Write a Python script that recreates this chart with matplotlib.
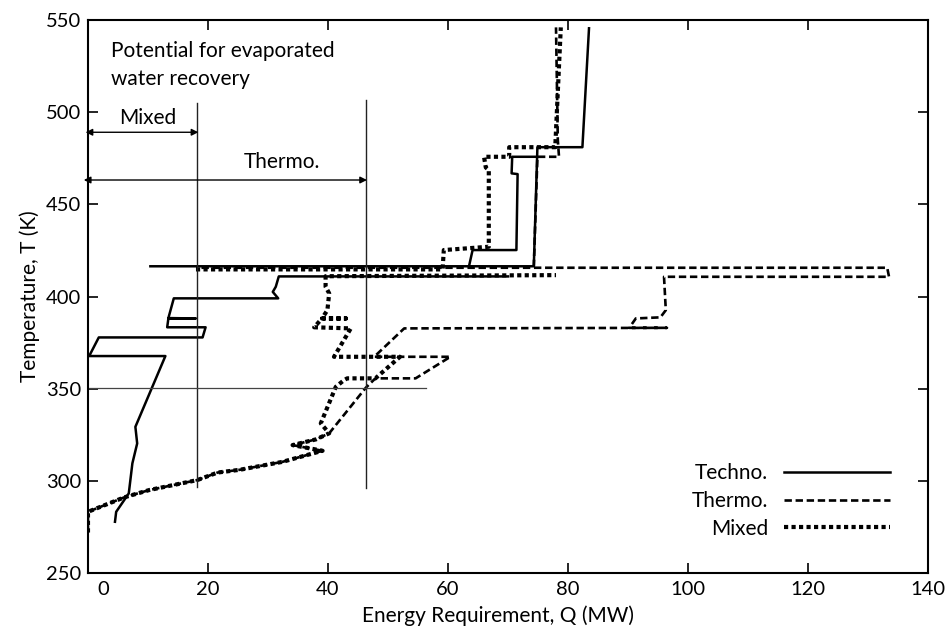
import matplotlib
matplotlib.use("Agg")
from matplotlib import pyplot as plt
import matplotlib.transforms as mtransforms

plt.rcParams['font.family'] = ['Lato', 'DejaVu Sans']

# curve data (Q in MW, T in K)
base_q = [0.0, 0.0, 6.0, 10.2, 18.2, 21.6, 25.3, 32.4, 38.5, 39.1, 34.1, 38.0, 40.2]
base_t = [272.0, 283.2, 291.0, 295.0, 300.4, 304.5, 306.0, 310.3, 315.8, 316.3, 319.4, 322.5, 325.8]

techno_q1 = [4.5, 4.7, 6.8, 7.4, 8.2, 7.9, 12.9, 0.2, 1.8, 19.1, 19.6, 13.2, 13.4, 18.0, 13.4,
             14.3, 31.7, 30.8, 31.3, 31.8, 70.0]
techno_t1 = [277.8, 283.2, 293.2, 309.5, 320.3, 329.3, 367.7, 367.7, 377.8, 377.8, 383.3, 383.3,
             388.1, 388.1, 388.3, 399.0, 399.0, 402.5, 405.3, 410.9, 410.9]
techno_q2 = [10.4, 74.3, 74.9, 82.4, 83.5]
techno_t2 = [416.4, 416.4, 481.0, 481.0, 545.5]
techno_q3 = [63.5, 64.1, 71.4, 71.6, 70.6, 70.7, 74.8]
techno_t3 = [416.4, 425.2, 425.2, 466.4, 466.8, 475.8, 475.8]

thermo_q1 = base_q + [46.3, 47.9, 54.6, 60.4, 47.7, 52.7, 96.5, 90.2, 91.3, 95.4, 96.3, 96.0,
                      133.5, 133.2, 18.0]
thermo_t1 = base_t + [350.5, 355.6, 355.6, 367.3, 367.3, 382.7, 383.0, 383.0, 388.1, 388.7,
                      392.6, 410.7, 410.7, 415.6, 415.6]
thermo_q2 = [74.3, 74.9, 78.5, 78.3, 78.0]
thermo_t2 = [416.0, 475.8, 475.8, 485.0, 546.0]

mixed_q1 = base_q + [38.8, 41.3, 42.7, 43.2, 47.9, 52.0, 41.0, 43.8, 37.7, 39.0, 43.0, 39.0,
                     39.9, 40.2, 39.6, 39.6, 78.0]
mixed_t1 = base_t + [331.2, 351.0, 354.7, 355.6, 355.6, 367.3, 367.3, 382.7, 383.3, 388.1,
                     388.1, 388.1, 392.6, 401.7, 405.3, 411.0, 411.6]
mixed_q2 = [18.0, 59.1, 59.3, 66.8, 66.8, 66.3, 66.0, 70.2, 70.2, 77.9, 77.9, 78.8]
mixed_t2 = [414.7, 414.7, 425.2, 427.0, 468.6, 470.0, 475.8, 475.8, 481.0, 481.0, 483.0, 546.0]

# recovery potential markers
mixed_limit = 18.2
thermo_limit = 46.3
pinch_t = 350.5

fig = plt.figure(figsize=(9.46, 6.27), dpi=100)
ax = fig.add_axes([0.093, 0.0861, 0.888, 0.882])

thermo_style = dict(color='black', lw=1.9, linestyle=(0, (2.8, 1.4)))
mixed_style = dict(color='black', lw=3.0, linestyle=(0, (1.0, 0.8)))

l_techno, = ax.plot(techno_q1, techno_t1, color='black', lw=1.8, label='Techno.')
ax.plot(techno_q2, techno_t2, color='black', lw=1.8)
ax.plot(techno_q3, techno_t3, color='black', lw=1.8)
l_thermo, = ax.plot(thermo_q1, thermo_t1, label='Thermo.', **thermo_style)
ax.plot(thermo_q2, thermo_t2, **thermo_style)
l_mixed, = ax.plot(mixed_q1, mixed_t1, label='Mixed', **mixed_style)
ax.plot(mixed_q2, mixed_t2, **mixed_style)

# guide lines
ax.plot([mixed_limit, mixed_limit], [296.8, 505.0], color='#222222', lw=1.0)
ax.plot([thermo_limit, thermo_limit], [296.0, 506.6], color='#222222', lw=1.0)
ax.plot([0, 56.3], [pinch_t, pinch_t], color='#444444', lw=0.9)

arrow = dict(arrowstyle='<|-|>', color='black', lw=1.0, mutation_scale=10, shrinkA=0, shrinkB=0)
ax.annotate('', xy=(-0.4, 489.1), xytext=(mixed_limit + 0.2, 489.1),
            arrowprops=arrow, annotation_clip=False)
ax.annotate('', xy=(-0.7, 463.2), xytext=(thermo_limit + 0.2, 463.2),
            arrowprops=arrow, annotation_clip=False)
ax.text(10.0, 496.8, 'Mixed', fontsize=15, ha='center', va='center')
ax.text(32.4, 473.0, 'Thermo.', fontsize=15, ha='center', va='center')
ax.text(3.8, 538.5, 'Potential for evaporated\nwater recovery', fontsize=15,
        ha='left', va='top', linespacing=1.5)

ax.set_xlim(0, 140)
ax.set_ylim(250, 550)
ax.set_xticks([0, 20, 40, 60, 80, 100, 120, 140])
ax.set_yticks([250, 300, 350, 400, 450, 500, 550])
ax.tick_params(direction='in', length=7, width=1.2, top=True, right=True, labelsize=14.5)
ax.tick_params(axis='x', pad=6)
ax.tick_params(axis='y', pad=5)
for sp in ax.spines.values():
    sp.set_linewidth(1.5)

ax.set_xlabel('Energy Requirement, Q (MW)', fontsize=15, labelpad=1)
ax.set_ylabel('Temperature, T (K)', fontsize=15, labelpad=4)
ax.xaxis.set_label_coords(0.488, -0.058)

# the "0" label sits a bit right of the corner
zero_lbl = ax.xaxis.get_major_ticks()[0].label1
zero_lbl.set_transform(zero_lbl.get_transform() +
                       mtransforms.ScaledTranslation(0.15, 0, fig.dpi_scale_trans))

ax.legend(handles=[l_techno, l_thermo, l_mixed], loc='lower right',
          bbox_to_anchor=(0.955, 0.062), frameon=False, markerfirst=False,
          fontsize=15, handlelength=5.1, handletextpad=0.77, labelspacing=0.37,
          borderpad=0, borderaxespad=0)

fig.savefig('out.png', dpi=100)
